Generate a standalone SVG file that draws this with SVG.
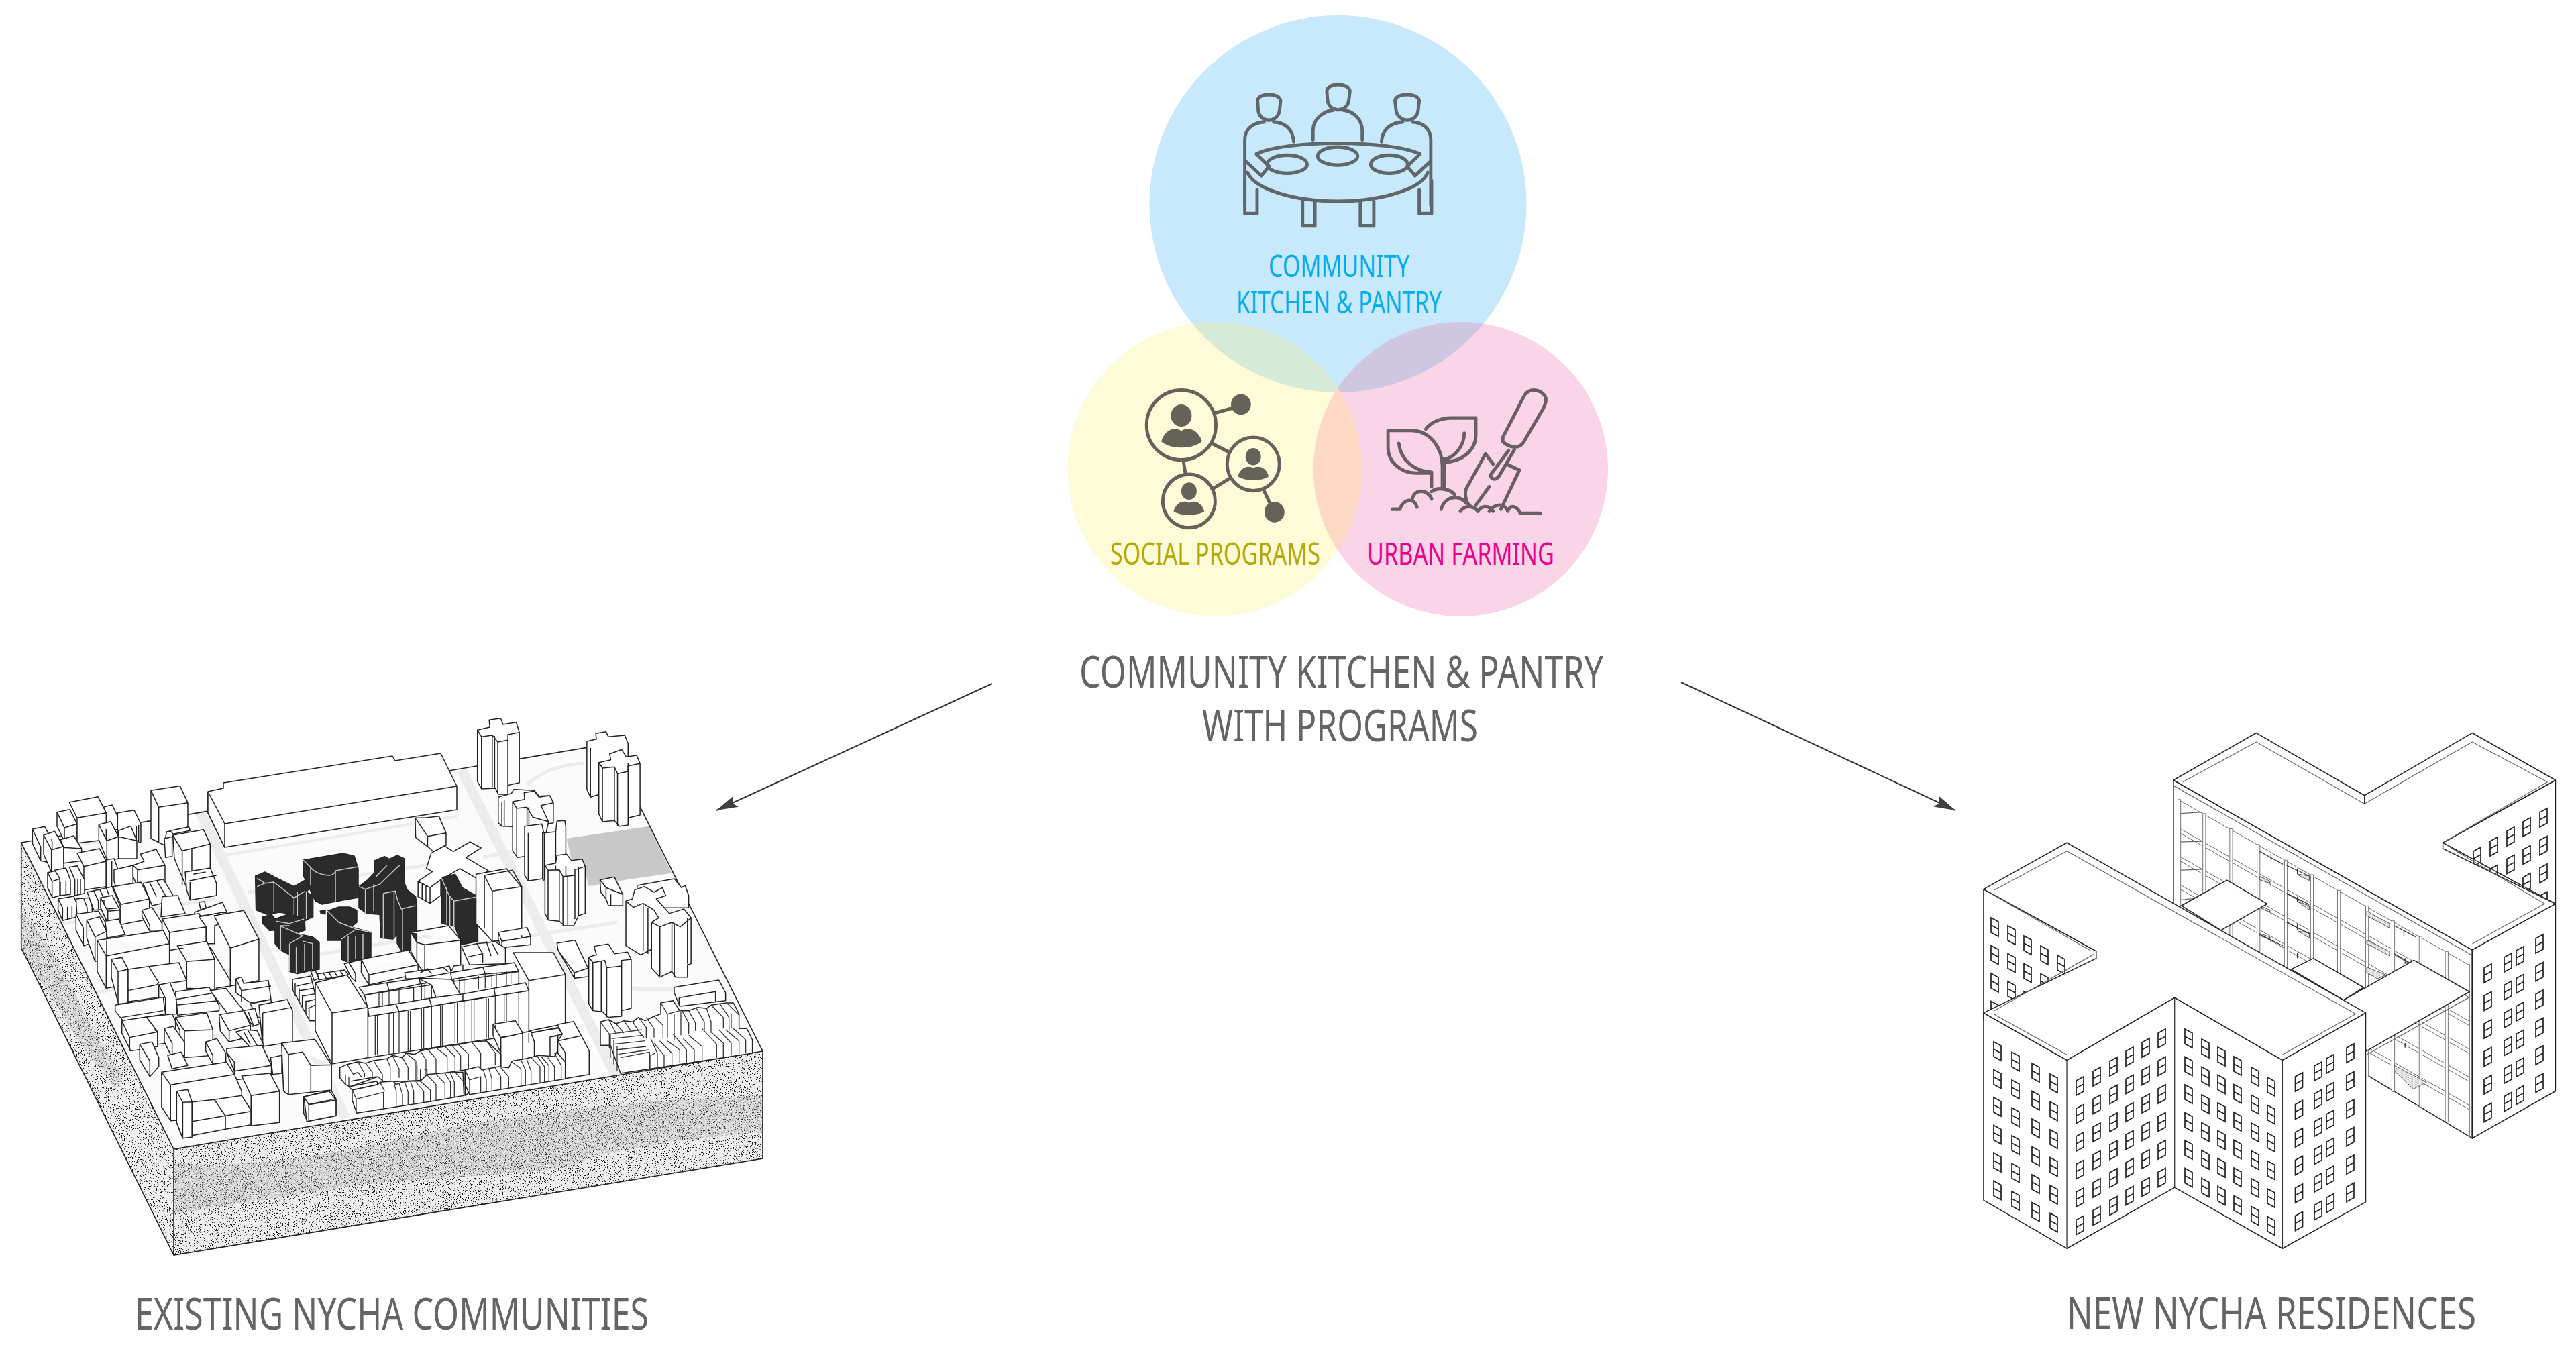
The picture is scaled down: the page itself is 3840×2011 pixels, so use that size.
<svg xmlns="http://www.w3.org/2000/svg" width="3840" height="2011" viewBox="0 0 3840 2011">
<style>
text{font-family:"Noto Sans","Liberation Sans",sans-serif;text-anchor:start}
.t{fill:#636466;font-size:66px}
.l{font-size:45px}
.i{fill:none;stroke-linecap:round;stroke-linejoin:round;stroke-width:8.5;vector-effect:non-scaling-stroke}
.i .f{fill:#65625a;stroke:none}
.c path{fill:#fff;stroke:#222;stroke-width:1.5;vector-effect:non-scaling-stroke;stroke-linejoin:round}
.k path{fill:#2b2b2b;stroke:#222;stroke-width:1.5;vector-effect:non-scaling-stroke;stroke-linejoin:round}
.k path.w{fill:none;stroke:#c8c8c8;stroke-width:1.5}
.c path.n{fill:none;stroke:#333;stroke-width:1.3}
.c path.b{fill:none;stroke:#666;stroke-width:1}
.c path.p{fill:#fff;stroke:#777;stroke-width:1}
.c path.h{fill:url(#hatch);stroke:#555;stroke-width:1}
.c path.g{fill:none;stroke:#666;stroke-width:1.2}
.r path{fill:none;stroke:#ececec;vector-effect:non-scaling-stroke}
.wn{fill:#fff;stroke:#222;stroke-width:1.7}
</style>
<defs>
<marker id="ah" markerUnits="userSpaceOnUse" markerWidth="34" markerHeight="20" refX="32" refY="10" orient="auto"><path d="M0 1L32 10L0 19L6 10Z" fill="#404040"/></marker>
<clipPath id="cb"><circle cx="1994.5" cy="304" r="281"/></clipPath>
<clipPath id="cy"><circle cx="1811" cy="699.5" r="219.5"/></clipPath>
<filter id="sp" x="0" y="0" width="1" height="1" color-interpolation-filters="sRGB">
<feTurbulence type="fractalNoise" baseFrequency="0.75" numOctaves="2" seed="4"/>
<feColorMatrix type="matrix" values="0 0 0 0 .1 0 0 0 0 .1 0 0 0 0 .1 14 0 0 0 -8.5"/>
<feComposite in2="SourceGraphic" operator="in" result="d"/>
<feMerge><feMergeNode in="SourceGraphic"/><feMergeNode in="d"/></feMerge>
</filter>
<filter id="sq" x="0" y="0" width="1" height="1" color-interpolation-filters="sRGB">
<feTurbulence type="fractalNoise" baseFrequency="0.9" numOctaves="2" seed="9"/>
<feColorMatrix type="matrix" values="0 0 0 0 .35 0 0 0 0 .35 0 0 0 0 .35 14 0 0 0 -7"/>
<feComposite in2="SourceGraphic" operator="in" result="d"/>
<feMerge><feMergeNode in="SourceGraphic"/><feMergeNode in="d"/></feMerge>
</filter>
<pattern id="hatch" width="5" height="5" patternUnits="userSpaceOnUse" patternTransform="rotate(35)"><rect width="5" height="5" fill="#fff"/><path d="M0 0V5" stroke="#444" stroke-width="1.6"/></pattern>
<path id="wd" d="M0 0L11 6V28L0 22ZM0 11L11 17"/>
<path id="wa" d="M0 6L11 0V22L0 28ZM0 17L11 11"/>
<g id="cd"><use href="#wd"/><use href="#wd" y="41.5"/><use href="#wd" y="83"/><use href="#wd" y="124.5"/><use href="#wd" y="166"/><use href="#wd" y="207.5"/></g>
<g id="ca"><use href="#wa"/><use href="#wa" y="41.5"/><use href="#wa" y="83"/><use href="#wa" y="124.5"/><use href="#wa" y="166"/><use href="#wa" y="207.5"/></g>
</defs>
<rect width="3840" height="2011" fill="#fff"/>

<g id="venn">
<circle cx="1994.5" cy="304" r="281" fill="#c7e9fb"/>
<circle cx="1811" cy="699.5" r="219.5" fill="#fefbd9"/>
<circle cx="2177.5" cy="699.5" r="219.5" fill="#f9d5e7"/>
<circle cx="1811" cy="699.5" r="219.5" fill="#d5ead7" clip-path="url(#cb)"/>
<circle cx="2177.5" cy="699.5" r="219.5" fill="#cfc6e2" clip-path="url(#cb)"/>
<circle cx="2177.5" cy="699.5" r="219.5" fill="#fdd9c5" clip-path="url(#cy)"/>
</g>

<g id="node-community">
<g class="i" stroke="#5f676b" transform="translate(1560 0) scale(.574 .6122)">
<path d="M548 245C550 225 605 225 608 245L605 270C600 300 555 300 550 270ZM728 222C730 200 785 200 788 222L785 245C780 275 735 275 730 245ZM905 245C907 225 965 225 968 245L965 270C960 300 915 300 908 270Z"/>
<path d="M692 340V318C692 290 720 270 745 268M820 340V318C820 290 795 270 770 268M515 500V340C515 312 540 298 565 297M590 297C620 298 640 315 642 345M998 500V340C998 312 975 298 950 297M925 297C895 298 872 315 870 345"/>
<path d="M545 375C620 340 890 340 970 375M545 375L578 405L558 428L520 395M970 375L937 405L957 428L995 395M522 420C540 460 640 490 756 490C870 490 975 460 990 420"/>
<ellipse cx="625" cy="400" rx="52" ry="22"/><ellipse cx="756" cy="380" rx="52" ry="22"/><ellipse cx="890" cy="400" rx="48" ry="22"/>
<path d="M515 440V520H547V462M665 490V550H697V490M815 490V550H850V490M968 462V520H1000V440"/>
</g>
<text class="l" x="1891" y="413" fill="#00aeef" textLength="210" lengthAdjust="spacingAndGlyphs">COMMUNITY</text>
<text class="l" x="1843" y="467" fill="#00aeef" textLength="306" lengthAdjust="spacingAndGlyphs">KITCHEN &amp; PANTRY</text>
</g>

<g id="node-social">
<g class="i" stroke="#65625a" transform="translate(1560 0) scale(.574 .6122)">
<ellipse cx="350" cy="1035" rx="90" ry="85"/><ellipse cx="537" cy="1130" rx="68" ry="65"/><ellipse cx="370" cy="1220" rx="68" ry="65"/>
<path d="M440 1005L490 992M430 1080L472 1100M356 1125L361 1155M432 1190L472 1167M565 1195L585 1235"/>
<ellipse class="f" cx="505" cy="985" rx="26" ry="25"/><ellipse class="f" cx="592" cy="1247" rx="26" ry="25"/>
<ellipse class="f" cx="350" cy="1012" rx="27" ry="27"/><ellipse class="f" cx="537" cy="1112" rx="20" ry="21"/><ellipse class="f" cx="370" cy="1196" rx="20" ry="21"/>
<path class="f" d="M298 1075C310 1040 340 1040 350 1050C360 1040 392 1040 404 1075C380 1095 320 1095 298 1075ZM497 1160C505 1135 527 1133 537 1140C547 1133 570 1135 577 1160C560 1172 515 1172 497 1160ZM330 1245C338 1220 360 1218 370 1225C380 1218 402 1220 410 1245C393 1257 348 1257 330 1245Z"/>
</g>
<text class="l" x="1655" y="842" fill="#b5a800" textLength="313" lengthAdjust="spacingAndGlyphs">SOCIAL PROGRAMS</text>
</g>

<g id="node-farming">
<g class="i" stroke="#6a5e66" transform="translate(1560 0) scale(.574 .6122)">
<path d="M887 1048H945C1000 1048 1028 1095 1028 1135V1190M887 1048V1090C887 1125 920 1152 960 1152H1000V1185M915 1080C920 1120 955 1148 1000 1150"/>
<path d="M985 1045C1000 1025 1030 1018 1050 1018H1115V1060C1115 1095 1080 1125 1033 1125V1190M1085 1055C1085 1085 1060 1115 1033 1118"/>
<path d="M898 1240H918C925 1215 955 1210 962 1235M950 1215C955 1190 990 1190 1000 1215M1000 1197C1015 1185 1050 1190 1060 1205M1025 1240C1035 1205 1075 1205 1090 1225M1075 1245C1085 1230 1110 1230 1120 1245M1120 1245C1130 1230 1150 1230 1160 1245M1150 1245C1165 1225 1190 1225 1198 1245C1205 1225 1225 1235 1230 1250H1282"/>
<path d="M1185 1065L1240 965C1250 945 1280 945 1295 965C1300 975 1295 985 1290 995L1240 1075C1230 1095 1200 1090 1185 1075Z"/>
<path d="M1200 1097L1152 1158C1158 1170 1170 1170 1178 1155L1215 1095M1160 1130L1140 1105L1090 1190C1085 1205 1090 1230 1105 1235M1195 1130L1228 1145L1180 1240M1115 1230L1150 1185"/>
</g>
<text class="l" x="2038" y="842" fill="#ec008c" textLength="279" lengthAdjust="spacingAndGlyphs">URBAN FARMING</text>
</g>

<g id="title">
<text class="t" x="1609" y="1025" textLength="781" lengthAdjust="spacingAndGlyphs">COMMUNITY KITCHEN &amp; PANTRY</text>
<text class="t" x="1792" y="1105" textLength="411" lengthAdjust="spacingAndGlyphs">WITH PROGRAMS</text>
</g>

<g id="connectors" stroke="#333" stroke-width="2" fill="none">
<path d="M1479 1019L1068 1208" marker-end="url(#ah)"/>
<path d="M2506 1017L2915 1208" marker-end="url(#ah)"/>
</g>

<g id="node-existing">
<g id="ground">
<path d="M31.7 1256L259 1713V1871L31.7 1413Z" fill="#f0f0f0" filter="url(#sp)"/>
<path d="M259 1713L1137 1567V1727L259 1871Z" fill="#eeeeee" filter="url(#sp)"/>
<g transform="translate(230 1500) scale(.606 .3333)" fill="#d6d6d6" opacity=".3" filter="url(#sq)">
<path d="M50 700C200 725 420 680 720 545C900 480 1200 420 1497 395V560C1300 600 1100 640 1020 720C800 770 620 770 500 800C300 860 150 900 50 930Z"/>
</g>
<g transform="translate(30 1140) scale(.3333)" fill="#d6d6d6" opacity=".3" filter="url(#sq)">
<path d="M5 640C100 760 170 880 240 1010C300 1140 350 1240 450 1370V1440H420C300 1300 200 1150 130 1020C80 950 40 880 5 830Z"/>
</g>
<path d="M31.7 1256L259 1713L1137 1567L907 1109Z" fill="#fbfbfb"/>
<g class="r">
<path d="M298 1210L515 1667" stroke-width="15"/><path d="M688 1148L918 1603" stroke-width="15"/>
<path d="M335 1275L681 1217M100 1262L200 1245" stroke-width="4"/>
<path d="M90 1378L320 1340M370 1330L700 1280M720 1278L800 1262" stroke-width="5"/>
<path d="M140 1480L380 1440M430 1430L700 1385" stroke-width="5"/>
<path d="M190 1565L380 1535M680 1470L770 1440" stroke-width="5"/>
<path d="M790 1395L920 1375" stroke-width="5"/>
<path d="M785 1170C815 1145 840 1140 870 1138" stroke-width="5"/>
<path d="M940 1473C975 1477 1005 1475 1030 1470" stroke-width="6"/>
<path d="M880 1475H915" stroke-width="5"/>
<path d="M880 1320L930 1310" stroke-width="5"/>
</g>
<g transform="translate(500 1060) scale(.357 .3333)"><path d="M965 570L1310 515L1405 725L1180 760L1055 782L1040 690L985 660Z" fill="#c8c8c8"/></g>
<path d="M31.7 1256L907 1109L1137 1567L259 1713ZM31.7 1256V1413L259 1871L1137 1727V1567M259 1713V1871" fill="none" stroke="#222" stroke-width="1.6"/>
</g>

<g class="c" id="city-back-real">
<path d="M310 1180L333 1175V1167L585 1127L589 1134L657 1123L681 1172V1207L335 1263L310 1212ZM335 1228L681 1172M310 1180L335 1228V1263"/>
</g>

<g class="c" id="city-right-towers" transform="translate(500 1060) scale(.357 .3333)">
<path d="M1050 135L1090 125L1087 100L1130 92L1140 115L1208 108L1222 145V300H1110V370L1065 385L1050 350Z M1065 165V385"/>
<path d="M1100 230L1150 218L1145 192L1195 172L1215 205L1258 198L1272 235V465L1222 478V510L1185 515L1165 490L1115 495L1100 460Z M1100 230L1115 255L1165 250L1178 280L1222 270V245L1272 235M1115 255V495M1165 250V490M1178 280V515M1222 270V478"/>
<path d="M593 85L645 72L642 40L690 32L700 60L755 50L768 95V320L720 332V372L680 372L668 345L610 348L593 315ZM593 85L610 115L655 108L678 138L720 130V105L768 95M610 115V348M655 108V340M665 112V345M678 138V372M720 130V332"/>
<path d="M680 385L735 368L745 350L830 355L850 380L895 378L910 410V500L800 520L695 515L680 500ZM695 405V515M705 400V515"/>
<path d="M740 405L790 395L788 365L830 358L850 385L895 378L910 410L858 422L890 495L860 640L760 655L740 625ZM740 405L757 435L800 430L825 475L890 495M757 435V650M800 430V620M808 430V620"/>
<path d="M790 515L862 505L870 545L920 540L925 492L958 490L962 520V740L925 745V760H870L865 750L805 760L790 735ZM805 545V760M865 540V750M872 545V755M920 540V745"/>
<path d="M875 690L920 680L925 645L965 640L985 668L1030 662L1043 695V905L1015 915L995 960H955L935 940L890 935L875 905ZM875 690L888 712L935 710L950 740L1000 735V710L1043 695M888 712V935M935 710V940M950 740V960M970 735V960M1000 710V930M1015 695V915"/>
<path d="M1105 755L1165 742L1200 820V870H1140L1130 840L1108 810ZM1130 790V840L1140 870M1150 820V870M1105 755L1130 790L1200 820"/>
<path d="M1260 780L1415 750L1445 790L1460 780L1475 825V880H1260Z"/>
<path d="M1213 850L1240 840L1250 800L1290 785L1330 810L1365 790L1380 825L1340 840L1395 905L1455 885L1485 925V1130L1470 1135V1190H1420L1405 1165L1355 1190L1320 1150V1065L1275 1090L1213 1050ZM1213 850L1245 878L1285 860L1330 890L1350 925L1320 945L1355 965L1405 945L1440 965L1485 925M1285 860V1075M1305 880V1085M1320 945V1150M1355 965V1185M1405 945V1165M1415 950V1190M1470 925V1130"/>
<path d="M925 1038L1000 1025L1055 1150V1188L998 1195L930 1070ZM930 1070L970 1130L998 1170L1055 1150M998 1170V1195"/>
<path d="M1058 1100L1090 1090L1080 1052L1140 1042L1165 1085L1220 1078L1235 1110V1330L1195 1340V1365L1140 1370L1115 1345L1075 1340L1058 1310ZM1058 1100L1075 1125L1125 1115L1133 1148L1195 1140V1115L1235 1110M1075 1125V1340M1110 1118V1345M1133 1148V1370M1195 1140V1340"/>
</g>

<g class="c" id="city-left" transform="translate(30 1140) scale(.3333)">
<path d="M585 115L715 95L750 170V280L655 300L645 360L585 330ZM585 115L620 190L750 170M620 190V345"/>
<path d="M840 120V215L915 370"/>
<path d="M55 288L110 277L143 340V440L92 430L55 352ZM55 288L92 368V430"/>
<path d="M165 212L222 200L255 265V335L200 345L165 275ZM165 212L198 282L255 265M198 282V345"/>
<path d="M375 188L412 180L438 235V290H385Z"/>
<path d="M436 215L510 203L540 265V345L525 350H436ZM520 275V345M530 270V345"/>
<path d="M220 168L348 143L385 215V335L255 350V238ZM255 238L385 215"/>
<path d="M105 315L155 298L195 370V470L140 480L105 400ZM105 315L140 380L195 365M140 380V480"/>
<path d="M180 335L240 318L275 375V430L195 440V370ZM195 370L275 375"/>
<path d="M352 268L405 254L440 322V420L390 430L352 335ZM352 268L388 340L440 322M388 340V430"/>
<path d="M440 295L495 275L522 340V420H440Z M440 322L522 340"/>
<path d="M255 395L355 375L385 432V545L285 560V455ZM285 455L385 432"/>
<path d="M385 425L420 420L437 465V550L385 560ZM410 430V555"/>
<path d="M420 470L505 450V540L430 555L420 520Z"/>
<path d="M505 450L555 432L538 400L608 378L648 450V525L525 545L505 500ZM525 470L648 450M525 470V545M505 450L525 470"/>
<path d="M683 315L820 290L850 355V470L745 550L690 420ZM683 315L725 385L850 355M725 385V540M768 375V475"/>
<path d="M670 295L755 278L760 295L685 310ZM645 330L680 322V410L650 415Z"/>
<path d="M738 480L850 462L878 530V585L760 605L745 560ZM755 520L878 495M760 525V605M775 490L830 480"/>
<path d="M123 482L160 475L178 510V585L145 595L123 550ZM123 482L143 522V595M143 522L178 510"/>
<path d="M155 472L205 462L225 515V580L178 585V510ZM180 525V585M205 520V582"/>
<path d="M220 458L255 452L288 515V575L245 585V515ZM258 510V580M270 510V578"/>
<path d="M170 600L240 588L255 625V680L190 697L170 650ZM170 600L190 640V697M212 635V690M232 630V685"/>
<path d="M250 600L310 595L322 635V670L255 680Z M285 600L300 640V670"/>
<path d="M300 570L412 545L450 640L330 650ZM330 565L350 610V645M355 555L375 600V640M385 550L400 590"/>
<path d="M550 530L640 512L682 580V610L590 630ZM580 530L610 590M612 520L650 585"/>
<path d="M415 545L540 525L578 600V690L450 715V625ZM450 625L578 600"/>
<path d="M360 595L412 585L447 650V710L395 715L360 640ZM360 595L392 655L447 650M392 655V715"/>
<path d="M635 590L705 585L738 665L630 680Z"/>
<path d="M800 615L825 612L832 640L808 648ZM780 660L905 615L925 660L780 680Z"/>
<path d="M545 650L590 638L635 710V745H580L545 680ZM545 650L580 720V745"/>
<path d="M250 668L350 655L385 710V770L285 810L250 740ZM250 668L283 730V810"/>
<path d="M298 695L355 680L387 745V870L335 880L298 775ZM298 695L335 770L387 745M335 770V880"/>
<path d="M380 700L440 690L470 760L390 775Z"/>
<path d="M635 690L800 665L832 725V800L668 830L635 770ZM635 690L668 750L832 725M668 750V830"/>
<path d="M800 680L905 660L925 700L870 720V800L832 800V725Z"/>
<path d="M345 785L640 740L668 800V950L385 1000L345 925ZM345 785L385 855L668 800M385 855V1000"/>
<path d="M868 675L1000 652L1068 780V965L940 990V820ZM940 820L1068 780"/>
<path d="M703 810L835 790L870 870V1005L745 1000V880ZM703 810L745 880L870 870M850 815L940 965V990L875 1000"/>
<path d="M408 870L455 862L483 915V1065L440 1070L408 950ZM408 870L438 925L483 915M438 925V1065"/>
<path d="M483 915L575 902L620 975L610 985L483 1010ZM575 902L710 885L745 965L620 985M483 1010V1060L620 1040"/>
<path d="M965 958L990 950L1000 978L1110 965L1122 1050L1030 1065L965 1020ZM965 958L990 1010V1060M990 1010L1122 990"/>
<path d="M620 985L670 975L700 1045V1115H650L620 1040ZM620 985L650 1045V1115"/>
<path d="M695 1015L845 995L890 1075V1100L705 1120ZM695 1050L860 1022M700 1075L885 1055"/>
<path d="M850 1010L920 1000L1000 1100L930 1115L880 1050Z"/>
<path d="M425 1075L640 1040L650 1115L460 1145L425 1100ZM455 1130L640 1100"/>
<path d="M1030 1070L1120 1050L1150 1120L1060 1130Z"/>
<path d="M890 1118L1000 1100L1030 1165V1215L935 1240L895 1190ZM895 1118L935 1190L1030 1165M935 1190V1240"/>
<path d="M1000 1100L1050 1090L1070 1160L1040 1170ZM1020 1105L1045 1170"/>
<path d="M455 1145L565 1128L615 1195V1260L495 1280L455 1200ZM455 1145L490 1220L615 1195M490 1220V1280"/>
<path d="M565 1128L680 1115L715 1190V1240L615 1250V1195ZM600 1185L615 1195"/>
<path d="M695 1130L835 1110L862 1185V1300L735 1310V1190ZM695 1130L735 1190L862 1185M695 1130V1180"/>
<path d="M645 1180L685 1170L735 1240V1300L680 1310L645 1240ZM645 1180L680 1245V1310"/>
<path d="M1068 1075L1195 1050L1218 1100V1240L1085 1260ZM1085 1110L1218 1085M1085 1110V1260"/>
<path d="M965 1195L1000 1185L1060 1190L1090 1255L1030 1265ZM1000 1195L1030 1250M1020 1190L1060 1255"/>
<path d="M535 1250L590 1240L620 1310V1350L580 1395L535 1320ZM535 1250L580 1325V1395"/>
<path d="M830 1240L880 1225L920 1290V1335H860L830 1280ZM830 1240L862 1300V1335"/>
<path d="M660 1300L720 1285L750 1345L680 1360Z"/>
<path d="M1120 1310L1170 1300V1380L1130 1385Z"/>
</g>

<g class="c" id="city-white" transform="translate(500 1060) scale(.357 .3333)">
<path d="M333 478L372 478L432 470L462 545V600L410 630L390 610L335 565ZM333 478L385 560L462 545M385 560V610"/>
<path d="M400 635L455 603L492 628L562 585L608 612L545 655L640 715L585 745L520 705L440 755L395 790L345 762L405 718L380 703Z"/>
<path d="M345 762V830L395 860L440 825V755L395 790ZM395 790V860M362 775V840M378 782V850"/>
</g>

<g class="k" id="city-black-a" transform="translate(30 1140) scale(.3333)">
<path d="M1052 498L1095 480L1140 503L1225 545L1285 510L1308 535L1280 570L1310 585V680L1270 700L1225 670L1160 660L1105 670L1055 650Z"/>
<path class="w" d="M1060 545L1095 530L1060 508M1095 530L1135 525L1225 595L1275 565M1135 525V660M1225 595V670M1240 570V680M1280 570V690"/>
<path d="M1085 680L1125 670L1140 690L1200 668L1272 688L1275 740L1235 755L1308 770L1338 795V915L1305 920L1240 935L1205 925V850L1165 830L1140 800V740L1115 742L1085 710Z"/>
<path class="w" d="M1143 700L1205 710L1270 690M1205 720L1165 720V830M1205 800V925M1235 815V930M1272 800V920M1308 800V915M1205 800L1265 765L1165 722M1265 790L1308 800"/>
<path d="M1342 655L1365 650V668L1345 665Z"/>
</g>
<g class="k" id="city-black-b">
<path d="M452 1282L511 1272L528 1276L534 1295V1338L500 1344L480 1348L470 1343L452 1305Z"/>
<path class="w" d="M452 1282L463 1293C468 1300 480 1305 490 1305C497 1305 500 1300 500 1298L534 1292M500 1298V1344M463 1293V1320"/>
<path d="M488 1358L505 1352L521 1352L532 1357V1375L524 1382L553 1390V1427L520 1435L509 1430V1402L488 1402Z"/>
<path class="w" d="M488 1358L505 1375L531 1385L553 1390M509 1400L531 1385M519 1395V1435M530 1395V1430M541 1392V1430"/>
</g>
<g class="k" id="city-black-c" transform="translate(500 1060) scale(.357 .3333)">
<path d="M162 670L205 650L225 662L258 645L288 660V770L300 800L335 830L340 870V1060L310 1070H275L258 1040V1000L240 1020L190 1015L185 910L130 905L98 880V785L135 755L162 725Z"/>
<path class="w" d="M98 785L125 797L185 775L262 695L270 690M170 740L215 690M125 797V905M160 775V895M200 815L250 805L258 840L275 885L335 870M200 815V1015M245 805V1015M280 885V1070"/>
<path d="M442 745L500 730L530 790L595 830V1030L525 1045L500 965L445 950Z"/>
<path class="w" d="M442 745L475 825L495 850L595 830M495 850V1045M465 790V955M478 825V960"/>
</g>

<g class="c" id="city-center-back" transform="translate(500 1060) scale(.357 .3333)">
<path d="M587 730L715 705L778 790V1020L655 1030L587 950ZM622 735L740 712L778 785L655 805ZM655 805V1030M622 740V970"/>
<path d="M680 990L800 968L815 1008V1045L720 1055L695 1065L680 1020ZM680 990L695 1030L815 1008M695 1030V1065"/>
<path d="M315 990L473 960L523 1025V1160L375 1180L340 1125L315 1075ZM315 990L340 1035L373 1045L523 1025M373 1045V1170M340 1035V1125"/>
<path d="M108 1110L305 1070L345 1135V1175L140 1225L108 1170ZM108 1110L140 1180L345 1135M140 1180V1225"/>
<path d="M527 1055L590 1040L640 1035L665 1030L710 1060V1130L560 1135ZM550 1100L615 1085M590 1040L615 1085V1125M630 1030L650 1095M655 1040L680 1090"/>
</g>

<g class="c" id="city-center" transform="translate(430 1420) scale(.3333)">
<path d="M18 120L100 105L120 190V305L95 305L20 170ZM35 150L105 135M50 170L115 160M60 195L118 185M75 220L118 210M88 250L118 235M30 135V195M48 160V220M62 190V250M78 215V275M92 245V305"/>
<path d="M130 95L250 78L270 100L135 122ZM155 90L170 115M180 88L195 112M205 85L220 108M230 80L245 102"/>
<path d="M100 85L120 80L135 115L115 125Z"/>
<path d="M250 50L270 45L300 95V130L280 110Z"/>
<path d="M1005 0L1185 0L1238 98V318L1075 350V125ZM1075 125L1238 98"/>
<path d="M340 190L1030 85V150L355 250Z"/>
<path d="M520 90L590 80L650 75L720 60L730 95L600 115L525 118Z"/>
<path d="M590 90L625 72M620 72L640 95M690 65L715 85M740 60L780 55V85L725 90Z"/>
<path d="M315 155L440 135L585 115L725 90L870 65L1010 45L1030 85L880 95L730 120L590 140L450 170L340 190ZM440 135L450 170M585 115L590 140M725 90L730 120M870 65L880 95"/>
<path class="n" d="M405 175V240M420 175V240M450 170V235M495 165V225M560 155V215M595 140V215M610 140V210M640 150V200M740 120V190M765 115V185M785 115V180M850 105V165M880 95V160M910 95V155M930 90V155M975 85V145M995 82V140"/>
<path d="M580 115L730 120L770 190L660 200L640 145Z"/>
<path d="M355 285L1075 170V360L355 470Z"/>
<path d="M355 250L480 230L630 205L780 185L920 160L1060 135L1075 170L920 195L780 215L640 240L490 265L360 285ZM480 230L495 265M630 205L640 240M780 185L780 215M920 160L925 195"/>
<path class="n" d="M388 285V460M398 285V460M450 275V455M470 270V450M495 265V450M535 260V445M545 260V445M595 250V440M605 250V440M640 240V430M680 240V420M688 235V420M745 225V405M755 225V405M785 215V400M820 210V395M830 210V395M885 205V385M895 205V385M925 195V385M965 190V310M975 190V310M1030 180V350"/>
<path d="M120 135L262 100L355 245V470L195 498L120 350ZM195 270L355 245M120 135L195 270V498"/>
<path d="M68 645L190 615L213 655V730L85 755L68 720ZM68 645L85 680L213 655M85 680V755"/>
<path d="M915 320L1015 305L1048 360V520H950V450L915 370ZM915 320L950 382L1048 360M950 382V450"/>
<path d="M1048 358L1085 352L1100 398V480H1048ZM1075 360V405"/>
<path d="M1085 360L1205 335L1225 365L1170 378V470H1100V398ZM1085 358L1205 338"/>
<path d="M1203 322L1275 308L1310 372L1345 440V545L1238 563V450L1205 395L1225 365ZM1205 395L1310 372M1170 378L1205 372V470"/>
<path d="M230 515L262 500L310 488L345 495L380 483L440 475L465 460L510 470L525 450L565 455L590 440L640 430L700 420L760 412L820 400L885 395L950 455V520L790 640V525L620 550V570L430 580L400 555L275 600L255 590L230 560Z"/>
<path class="n" d="M262 500L290 545L310 535L330 560M310 488L340 540V555M345 495L375 535V560M380 483L420 545V575M440 475L455 510V575M465 460L495 520V560M510 470L535 515V570M525 450L570 485V570M590 440L615 480V545M625 435L660 475V545M660 425L710 465V540M700 420L745 465V535M730 415L770 460V530M760 412L805 455V525M820 400L860 450V520M885 395L925 450V505M575 500V570M590 520V570M605 520L620 525V550M255 545V590M270 555V600"/>
<path d="M270 600L395 575L400 590L285 615ZM280 575L395 555"/>
<path d="M285 615L400 590L410 580L470 575L480 590L510 580L545 575L590 575L620 545L680 540L780 535L785 640L640 665L430 698L305 718L285 660Z"/>
<path class="n" d="M285 615L303 655V718M303 655L425 625V695M410 580L430 620M470 575L482 620V690M495 585L510 635V685M520 580L535 625V680M545 575L560 620V675M570 580L605 620V670M590 575L635 615V665M620 548L660 590V660M660 545L700 585V650M700 540L725 580V645M725 540L742 580V645M745 535L785 580V640"/>
<path d="M790 525L850 510L865 525L940 510L985 515L1000 485L1060 475L1120 460L1190 465L1200 445L1238 490V565L810 635L790 590Z"/>
<path class="n" d="M790 525L810 570V635M810 570L860 555V630M870 520L885 570V620M895 515L910 565V615M920 510L950 555V610M950 515L985 555V605M1000 490L1040 520V600M1040 480L1060 525V595M1065 475L1085 530V590M1085 470L1125 510V585M1110 460L1145 510V580M1130 465L1165 505V575M1160 470L1190 510V570M1190 450L1220 505V565"/>
</g>

<g class="c" id="city-right-low" transform="translate(820 1400) scale(.3333)">
<path d="M555 215L755 183L785 240V275L580 300L555 240ZM577 262L740 235V280M577 262V295M755 183L770 210"/>
<path d="M225 370L262 360L295 378L330 365L370 370L395 350L425 365L465 345L495 335V285L550 275L580 320L620 320L660 305L700 310L720 295L790 285L820 285L845 335V400L880 400L905 450V510L450 580L315 600L270 475L225 475Z"/>
<path class="n" d="M225 370L265 425V490M262 360L295 420M295 378L330 420M330 365L365 415M370 370L395 410L420 440M395 350L430 395V445M430 350L465 400V440M465 345L505 385V445M495 285L525 335V440M525 335L580 320M555 335V450M585 325V430M590 320L620 375V425M620 320L650 375V410M655 310L690 370V405M700 310L720 370V420M720 295L775 350V400M760 290L800 350V410M790 285L845 340M810 335V400M265 425L410 405M275 445L415 430M285 470L425 455M295 495L430 480M305 515L440 495M315 530L445 505V580M270 425V530M285 450V560M300 480V590M450 445L480 510V575M465 465L510 520V570M490 455L545 510V565M525 455L580 495V555M550 425L610 495V555M595 445L645 495V550M620 430L680 480V545M680 400L745 470V530M725 420L775 465V525M755 405L810 465V520M785 405L845 455V515M820 400L875 450V510M470 510L450 520V580"/>
</g>

<g class="c" id="city-low-left" transform="translate(230 1500) scale(.606 .3333)">
<path d="M178 190L265 175L288 265V310L197 330V250L178 208ZM178 208L197 290L288 265"/>
<path d="M18 295L178 250L197 305L215 380V520L95 570V575L70 590L55 520V510L40 512L18 450ZM18 295L40 352L197 305M40 352V512"/>
<path d="M55 380L82 373L93 428V585L70 590L55 520ZM55 380L70 430L93 428M70 430V590"/>
<path d="M93 428L148 418L175 490V550L93 578ZM93 515L175 490"/>
<path d="M148 418L215 400L238 465V530L175 550V490ZM175 490L238 470"/>
<path d="M215 312L285 300L308 380V520L238 535V400ZM238 400L308 380M215 312L238 400"/>
<path d="M313 165L395 148L436 262V375L330 395L318 380ZM313 165L330 215L365 205L385 265L436 262M330 215V395M385 265V385"/>
<path d="M368 405L430 380L447 420V490L375 515ZM368 405L380 440L447 420M380 440V515"/>
</g>
</g>

<g class="c" id="node-new">
<g transform="translate(2900 1060) scale(.5995 .5421)">
<path d="M1517 190V530L1237 362Z"/>
</g>
<g class="wn">
<use href="#ca" x="3687" y="1263"/><use href="#ca" x="3712" y="1248"/><use href="#ca" x="3737" y="1233"/><use href="#ca" x="3761" y="1219"/><use href="#ca" x="3786" y="1205"/>
</g>
<g transform="translate(2900 1060) scale(.5995 .5421)">
<path d="M567 190L1310 657V1175L1047 1000L567 536Z" stroke="none"/>
<path class="b" d="M578 243L1303 699M578 320L1303 776M578 332L1303 788M578 397L1303 853M578 409L1303 865M578 474L1303 930M578 486L1303 942M578 551L1303 1007M578 563L1303 1019M578 628L1303 1084M578 640L1303 1096"/>
<path class="g" d="M578 282L640 278M578 360L640 358M578 438L640 435M578 520L640 513"/>
<path class="p" d="M578 243V712H585V243ZM640 282V751H647V282ZM707 324V793H714V324ZM775 367V836H782V367ZM843 410V879H850V410ZM908 450V920H915V450ZM975 493V962H982V493ZM1045 536V1006H1052V536ZM1110 577V1047H1117V577ZM1178 620V1089H1185V620ZM1243 661V1130H1250V661Z"/>
</g>
<g transform="translate(3280 1180) scale(.357 .3333)">
<path class="h" d="M695 535L790 590V610L695 555ZM695 665L790 715V735L695 680ZM695 785L775 820L740 838L695 810ZM410 370L455 378V398L410 375ZM410 495L455 510V528ZM410 625L455 632V655ZM810 1225L945 1300L890 1330L810 1250ZM248 380L290 400V410L248 395ZM248 510L290 530V540L248 520ZM248 635L290 650V660L248 645Z"/>
<path class="n" d="M295 280V305M405 345V370M405 470V495M405 595V620M405 720V745M295 400V425M295 530V550M295 650V675M850 620V645M855 745V770M855 1125V1145M248 268L345 325M360 330L455 378M360 455L455 505M360 585L455 635M250 640L345 690M810 600L900 650M810 725L880 770"/>
</g>
<g transform="translate(2900 1060) scale(.5995 .5421)">
<path d="M567 190L773 60L1042 232L1310 60L1517 190L1237 362V378L1517 530L1310 657Z"/>
<path class="g" d="M590 195L773 85L1042 255L1310 85L1497 195L1240 360M1255 375L1490 530L1310 640M567 205L1310 672"/>
<path class="n" d="M1042 232V255M1237 362L1517 530"/>
<path d="M1310 657L1517 530V1045L1310 1175Z"/>
<path class="g" d="M1303 695V1170L1310 1175"/>
<path d="M587 535L700 465L800 530L685 603Z"/>
<path d="M860 710L915 680L1040 760L990 795Z"/>
<path d="M990 795L1165 685L1303 772L1047 935Z"/>
<path class="g" d="M1047 945L1303 787"/>
<path d="M95 490L375 660V680L95 850Z"/>
</g>
<g class="wn">
<use href="#cd" x="2968" y="1368"/><use href="#cd" x="2993" y="1380"/><use href="#cd" x="3017" y="1395"/><use href="#cd" x="3042" y="1410"/><use href="#cd" x="3067" y="1424"/>
<use href="#ca" x="3703" y="1437"/><use href="#ca" x="3733" y="1421"/><use href="#ca" x="3751" y="1411"/><use href="#ca" x="3780" y="1393"/>
</g>
<g transform="translate(2900 1060) scale(.5995 .5421)">
<path d="M95 830L302 960L570 788L838 960L1045 830V1350L838 1478L570 1310L302 1478L95 1345Z"/>
<path d="M95 490L302 362L1045 830L838 960L570 788L302 960L95 830L375 680V660Z"/>
<path class="g" d="M122 492L302 385L1020 833L838 945M118 832L302 945M120 825L370 668M360 658L118 505"/>
<path class="n" d="M302 960V1478M570 788V1310M838 960V1478"/>
</g>
<g class="wn">
<use href="#cd" x="2972" y="1553"/><use href="#cd" x="2999" y="1568.5"/><use href="#cd" x="3029" y="1585"/><use href="#cd" x="3056" y="1601"/>
<use href="#ca" x="3095" y="1605"/><use href="#ca" x="3120" y="1591"/><use href="#ca" x="3145" y="1576"/><use href="#ca" x="3169" y="1561"/><use href="#ca" x="3193" y="1548"/><use href="#ca" x="3217" y="1534"/>
<use href="#cd" x="3257" y="1534"/><use href="#cd" x="3282" y="1549"/><use href="#cd" x="3306" y="1561"/><use href="#cd" x="3330" y="1575"/><use href="#cd" x="3356" y="1591"/><use href="#cd" x="3380" y="1606"/>
<use href="#ca" x="3421.5" y="1599"/><use href="#ca" x="3450" y="1583"/><use href="#ca" x="3468" y="1572"/><use href="#ca" x="3498" y="1556"/>
</g>
</g>

<g id="captions">
<text class="t" x="201" y="1982" textLength="766" lengthAdjust="spacingAndGlyphs">EXISTING NYCHA COMMUNITIES</text>
<text class="t" x="3081" y="1981" textLength="610" lengthAdjust="spacingAndGlyphs">NEW NYCHA RESIDENCES</text>
</g>
</svg>
